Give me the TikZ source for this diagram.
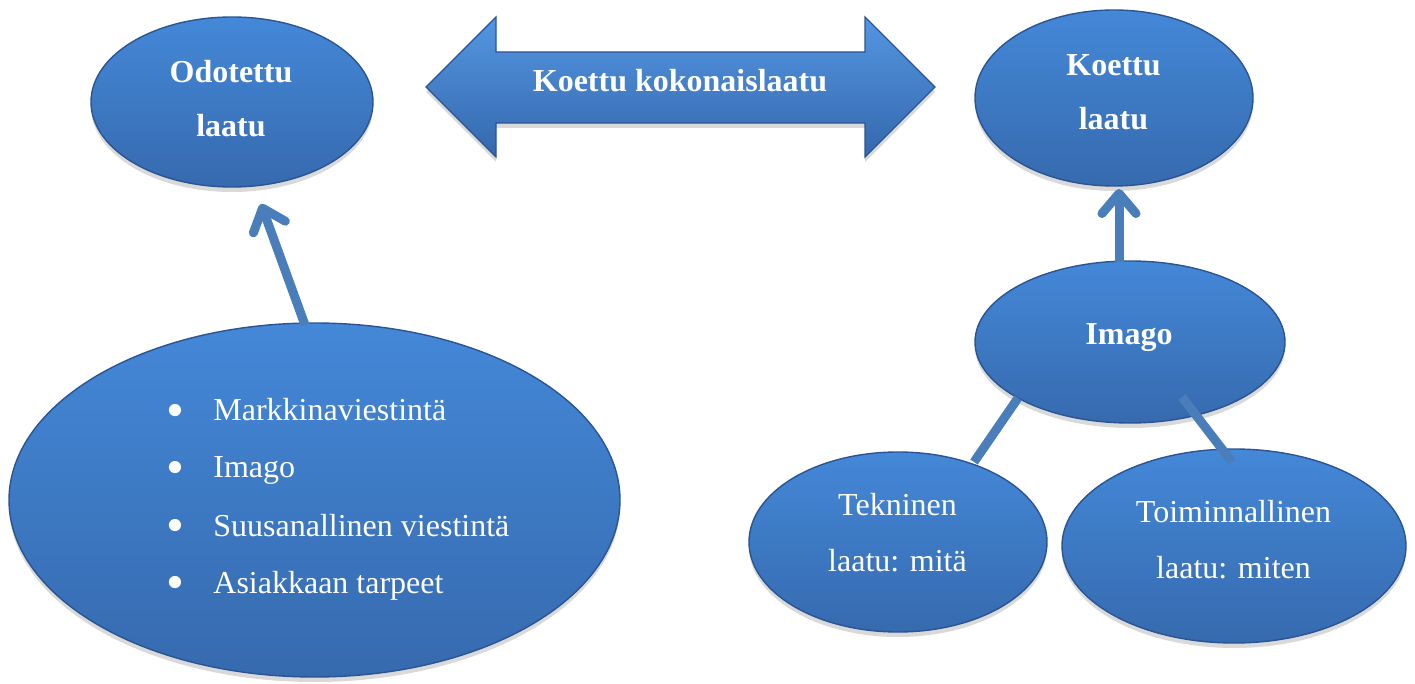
\documentclass[tikz,border=0pt]{standalone}
\usepackage{fontspec}
\setmainfont{Liberation Serif}
\usetikzlibrary{shapes.geometric,shadows,arrows.meta}
\definecolor{bTop}{RGB}{68,136,216}
\definecolor{bBot}{RGB}{54,106,174}
\definecolor{bEdge}{RGB}{42,84,146}
\definecolor{aTop}{RGB}{84,150,226}
\definecolor{aBot}{RGB}{52,104,172}
\definecolor{lineBlue}{RGB}{74,126,187}
\tikzset{
  blob/.style={ellipse, inner sep=0pt, top color=bTop, bottom color=bBot,
    draw=bEdge, line width=0.7pt,
    drop shadow={shadow xshift=0pt, shadow yshift=-2.5pt, opacity=0.3}},
  lblB/.style={text=white, font=\bfseries\fontsize{16}{27.2}\selectfont,
    align=center, inner sep=0pt, anchor=base},
  lblR/.style={text=white, font=\fontsize{16}{28}\selectfont,
    align=center, inner sep=0pt, anchor=base},
  item/.style={text=white, font=\fontsize{16}{19}\selectfont,
    inner sep=0pt, anchor=base west},
  conn/.style={draw=lineBlue, line width=4.5pt},
  arr/.style={conn, -{Straight Barb[length=10pt, width=17pt, round]}},
}
\newcommand{\bigbul}{\makebox[23.5pt][l]{\raisebox{-3.2pt}{\scalebox{1.6}{•}}}}
\begin{document}
\begin{tikzpicture}[x=0.5pt, y=-0.5pt]
\useasboundingbox (0,0) rectangle (1415,684);

% ellipses
\node[blob, minimum width=141pt, minimum height=85pt]  (odot)  at (232,102) {};
\node[blob, minimum width=139pt, minimum height=88pt]  (koet)  at (1114,98) {};
\node[blob, minimum width=155pt, minimum height=81pt]  (imago) at (1130,342) {};
\node[blob, minimum width=149pt, minimum height=90pt]  (tek)   at (898,542) {};
\node[blob, minimum width=172pt, minimum height=97pt]  (toim)  at (1234,546) {};
\node[blob, minimum width=305.5pt, minimum height=177pt] (big) at (314.5,500) {};

% double arrow
\path[top color=aTop, bottom color=aBot, draw=bEdge, line width=0.6pt,
      drop shadow={shadow xshift=0pt, shadow yshift=-2.5pt, opacity=0.3}]
  (426,87) -- (496,17) -- (496,52) -- (865,52) -- (865,17) -- (935,87)
  -- (865,157) -- (865,123) -- (496,123) -- (496,157) -- cycle;
\node[lblB] (arrT) at (680,92) {Koettu kokonaislaatu};

% labels (base anchor = baseline of the last line)
\node[lblB] (odotT)  at (231,137)   {Odotettu\\laatu};
\node[lblB] (koetT)  at (1113.5,130) {Koettu\\laatu};
\node[lblB] (imagoT) at (1129,345) {Imago};
\node[lblR] (tekT)   at (897.5,571) {Tekninen\\laatu: mitä};
\node[lblR] (toimT)  at (1233.5,578) {Toiminnallinen\\laatu: miten};

% bullet list
\foreach \t/\yy [count=\i] in {Markkinaviestintä/421, Imago/478, Suusanallinen viestintä/536, Asiakkaan tarpeet/593}{
  \node[item] (li\i) at (166,\yy) {\bigbul\t};
}

% connectors
\coordinate (bigTop) at (305,325);
\coordinate (odotTip) at (261,204);
\draw[arr] (bigTop) -- (odotTip);
\coordinate (imagoTop) at (1119,262);
\coordinate (koetTip) at (1119,189);
\draw[arr] (imagoTop) -- (koetTip);
\coordinate (imL) at (1018,398);
\coordinate (tekTop) at (974,462);
\coordinate (imR) at (1182,397);
\coordinate (toimTop) at (1232,462);
\draw[conn] (imL) -- (tekTop);
\draw[conn] (imR) -- (toimTop);
\end{tikzpicture}
\end{document}
